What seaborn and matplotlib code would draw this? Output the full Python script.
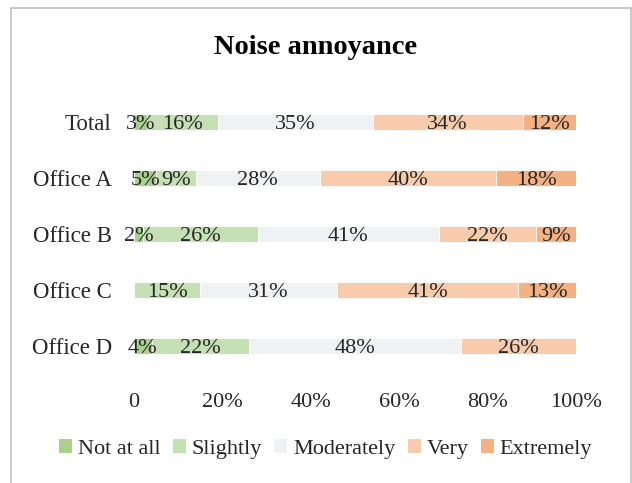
import matplotlib
matplotlib.use('Agg')
import matplotlib.pyplot as plt
from matplotlib.patches import Rectangle, Patch
import numpy as np
import pandas as pd
import seaborn as sns

# Data
offices = ['Total', 'Office A', 'Office B', 'Office C', 'Office D']
levels = ['Not at all', 'Slightly', 'Moderately', 'Very', 'Extremely']
not_at_all = [3, 5, 2, 0, 4]
slightly = [16, 9, 26, 15, 22]
moderately = [35, 28, 41, 31, 48]
very = [34, 40, 22, 41, 26]
extremely = [12, 18, 9, 13, 0]
colors = ['#a9d18e', '#c5e0b4', '#f0f1f3', '#f8cbad', '#f4b183']
x_ticks = [0, 20, 40, 60, 80, 100]
x_labels = ['0', '20%', '40%', '60%', '80%', '100%']

sns.set_theme(style='white')
plt.rcParams['font.family'] = ['Liberation Serif', 'DejaVu Serif']
text_col = '#262626'

df = pd.DataFrame({'office': offices, 'Not at all': not_at_all, 'Slightly': slightly,
                   'Moderately': moderately, 'Very': very, 'Extremely': extremely})
cum = df[levels].cumsum(axis=1)

fig = plt.figure(figsize=(6.32, 4.83), dpi=100)
ax = fig.add_axes([0.212, 0.2257, 0.699, 0.5797])

# layered cumulative bars -> stacked look
for lvl, col in reversed(list(zip(levels, colors))):
    sns.barplot(x=cum[lvl], y=df['office'], orient='h', color=col, width=0.3,
                saturation=1, edgecolor='white', linewidth=0.6, ax=ax)

# data labels
for i, off in enumerate(offices):
    left = 0
    for lvl in levels:
        v = df.loc[i, lvl]
        if v > 0:
            ax.text(left + v / 2, i, f'{v}%', ha='center', va='center_baseline',
                    fontsize=16, color=text_col)
        left += v

ax.set_xlim(0, 100)
ax.set_ylim(4.5, -0.5)
ax.set_xticks(x_ticks)
ax.set_xticklabels(x_labels)
ax.set_xlabel('')
ax.set_ylabel('')
ax.tick_params(axis='x', length=0, pad=14, labelsize=16, labelcolor=text_col)
ax.tick_params(axis='y', length=0, pad=16, labelsize=16.5, labelcolor=text_col)
sns.despine(ax=ax, left=True, bottom=True)

fig.text(0.5, 1 - 47 / 483, 'Noise annoyance', ha='center', va='center',
         fontsize=20.5, fontweight='bold', color='black')

handles = [Patch(facecolor=c, edgecolor='none') for c in colors]
fig.legend(handles, levels, loc='center', bbox_to_anchor=(0.515, 1 - 449 / 483),
           ncol=5, frameon=False, fontsize=16, handlelength=0.6, handleheight=0.6,
           handletextpad=0.25, columnspacing=0.55, labelcolor=text_col)

# chart border (bottom edge cut off in the reference)
fig.patches.append(Rectangle((11 / 632, -0.1), 620 / 632, 1.1 - 8 / 483,
                             transform=fig.transFigure, fill=False,
                             edgecolor='#bfbfbf', linewidth=1.2))

fig.savefig('out.png', dpi=100)
